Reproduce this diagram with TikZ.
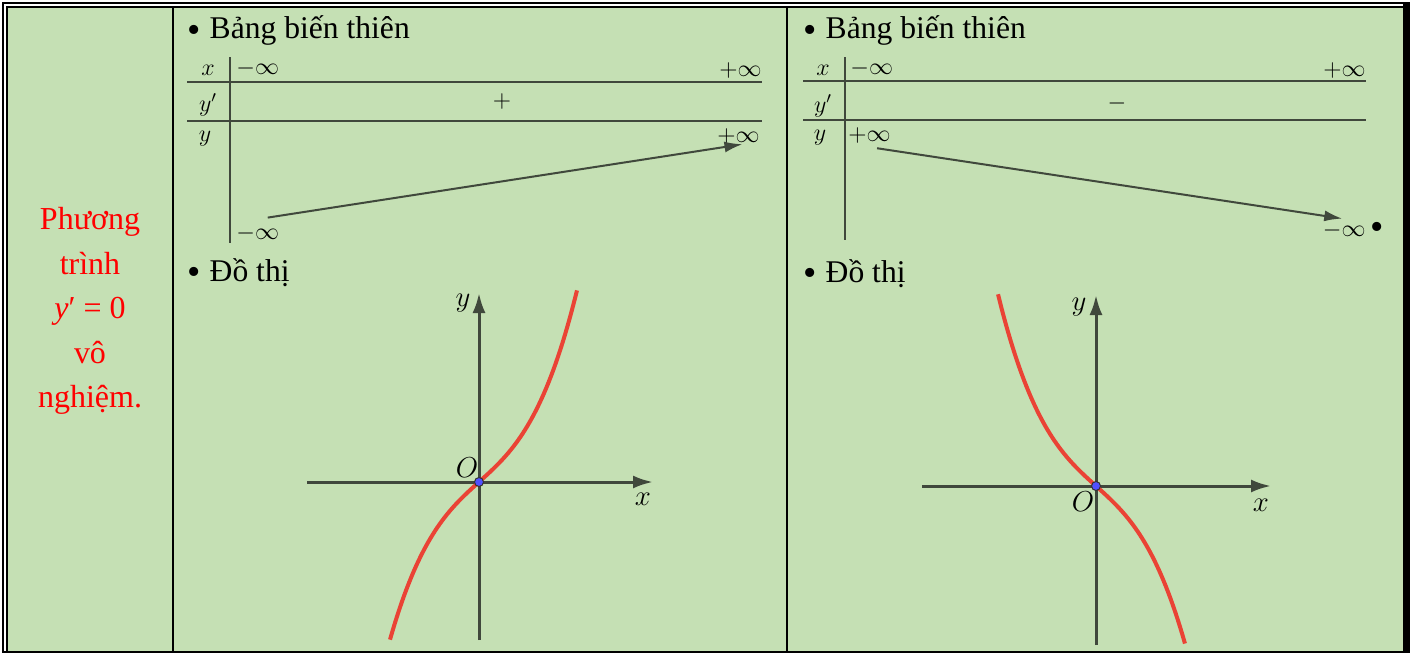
\documentclass[tikz,border=0pt]{standalone}
\usepackage[no-math]{fontspec}
\setmainfont{Liberation Serif}
\usepackage{amsmath}
\usepackage{tikz}
\usetikzlibrary{arrows.meta, calc}
\definecolor{CellGreen}{RGB}{197,224,180}
\definecolor{AxisGray}{RGB}{64,72,60}
\definecolor{CurveRed}{RGB}{234,67,53}
\definecolor{PointBlue}{RGB}{80,80,255}
\newcommand{\bigbul}{\raisebox{-1.6pt}{\fontsize{19}{19}\selectfont\textbullet}}

\begin{document}
\begin{tikzpicture}[x=0.5pt, y=-0.5pt,
          head/.style={anchor=base west, inner sep=0pt, font=\fontsize{15.8}{19}\selectfont},
          tlab/.style={inner sep=0pt, font=\fontsize{11.5}{14}\selectfont},
          mlab/.style={inner sep=0pt, font=\fontsize{13.5}{16}\selectfont},
          tline/.style={AxisGray, line width=1.2pt},
          tarr/.style={AxisGray, line width=1pt, -{Latex[length=9pt, width=5.5pt]}},
          axis/.style={AxisGray, line width=1.5pt, -{Latex[length=10pt, width=6.5pt]}},
          curve/.style={CurveRed, line width=2pt},
          pt/.style={circle, fill=PointBlue, draw=black!80, line width=0.5pt,
                     inner sep=0pt, minimum size=4.5pt}
        ]
        \useasboundingbox (0,0) rectangle (1410,653);

        % Cell background and frame
        \fill[CellGreen] (7,7) rectangle (1403,651);
        \draw[line width=1.2pt] (3,653) -- (3,3) -- (1410,3);
        \draw[line width=1pt] (7,651) -- (7,7) -- (1403,7);
        \fill[black] (1403,3) rectangle (1410,653);
        \fill[black] (3,651) rectangle (1410,653);
        \draw[line width=1pt] (173,7) -- (173,651);
        \draw[line width=1pt] (787,7) -- (787,651);

        % Left column
        \node[text=red, align=center, inner sep=0pt,
              font=\fontsize{16}{22.3}\selectfont] (pt0) at (90,311)
              {Phương\\trình\\\textit{y}′ = 0\\vô\\nghiệm.};

        % Table of variations (increasing)
        \node[head] (bbt1) at (187,39) {\bigbul\hspace{4.5pt}Bảng biến thiên};
        \draw[tline] (187,82) -- (762,82);
        \draw[tline] (187,121) -- (762,121);
        \draw[tline] (230,57) -- (230,243);
        \node[tlab] (x1) at (208,70) {$x$};
        \node[tlab, anchor=west] (xa1) at (236,69) {$-\infty$};
        \node[tlab, anchor=east] (xb1) at (762,70) {$+\infty$};
        \node[tlab] (yp1) at (208,105) {$y'$};
        \node[tlab] (sg1) at (502,101) {$+$};
        \node[tlab] (y1) at (205,139) {$y$};
        \node[tlab, anchor=east] (yb1) at (760,136) {$+\infty$};
        \node[tlab, anchor=west] (ya1) at (236,233) {$-\infty$};
        \draw[tarr] ([xshift=5pt, yshift=3.5pt]ya1.north) -- ([xshift=2pt]yb1.south);

        % Graph (increasing)
        \node[head] (dt1) at (187,281) {\bigbul\hspace{4.5pt}Đồ thị};
        \coordinate (o1) at (479,482);
        \coordinate (gxa1) at (307,482);
        \coordinate (gxb1) at (653,482);
        \coordinate (gya1) at (479,640);
        \coordinate (gyb1) at (479,293);
        \draw[axis] (gxa1) -- (gxb1);
        \draw[axis] (gya1) -- (gyb1);
        \draw[curve] plot[domain=-0.89:0.98, samples=80, variable=\t]
              ({479+100*\t}, {482-90*\t-110*\t*\t*\t});
        \node[pt] (po1) at (o1) {};
        \node[mlab] (ly1) at (463,303) {$y$};
        \node[mlab] (lx1) at (643,499) {$x$};
        \node[mlab] (lo1) at (467,468) {$O$};

        % Table of variations (decreasing)
        \node[head] (bbt2) at (803,39) {\bigbul\hspace{4.5pt}Bảng biến thiên};
        \draw[tline] (803,81) -- (1366,81);
        \draw[tline] (803,120) -- (1366,120);
        \draw[tline] (845,57) -- (845,240);
        \node[tlab] (x2) at (823,70) {$x$};
        \node[tlab, anchor=west] (xa2) at (850,69) {$-\infty$};
        \node[tlab, anchor=east] (xb2) at (1366,70) {$+\infty$};
        \node[tlab] (yp2) at (823,106) {$y'$};
        \node[tlab] (sg2) at (1117,103) {$-$};
        \node[tlab] (y2) at (820,138) {$y$};
        \node[tlab, anchor=west] (ya2) at (848,135) {$+\infty$};
        \node[tlab, anchor=east] (yb2) at (1366,230) {$-\infty$};
        \node[head] (dot2) at (1370,236) {\bigbul};
        \draw[tarr] ([xshift=3.75pt, yshift=-2.5pt]ya2.south) -- ([xshift=-1pt, yshift=1.5pt]yb2.north);

        % Graph (decreasing)
        \node[head] (dt2) at (803,282) {\bigbul\hspace{4.5pt}Đồ thị};
        \coordinate (o2) at (1096,486);
        \coordinate (gxa2) at (922,486);
        \coordinate (gxb2) at (1271,486);
        \coordinate (gya2) at (1096,645);
        \coordinate (gyb2) at (1096,295);
        \draw[axis] (gxa2) -- (gxb2);
        \draw[axis] (gya2) -- (gyb2);
        \draw[curve] plot[domain=-0.98:0.89, samples=80, variable=\t]
              ({1096+100*\t}, {486+90*\t+110*\t*\t*\t});
        \node[pt] (po2) at (o2) {};
        \node[mlab] (ly2) at (1079,307) {$y$};
        \node[mlab] (lx2) at (1261,505) {$x$};
        \node[mlab] (lo2) at (1083,502) {$O$};
      \end{tikzpicture}
\end{document}
